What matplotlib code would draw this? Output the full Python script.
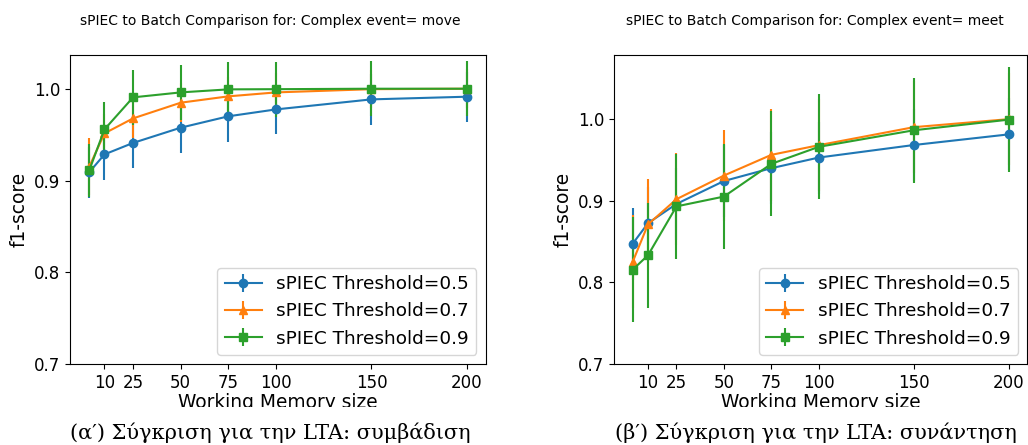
import matplotlib
matplotlib.use('Agg')
import matplotlib.pyplot as plt
from matplotlib.patches import Rectangle

# Dados
memory_sizes = [2, 10, 25, 50, 75, 100, 150, 200]
xticks = [10, 25, 50, 75, 100, 150, 200]
labels = ['sPIEC Threshold=0.5', 'sPIEC Threshold=0.7', 'sPIEC Threshold=0.9']
markers = ['o', '^', 's']

# Complex event = move
move_t05 = [0.909, 0.9285, 0.941, 0.9576, 0.970, 0.9775, 0.9884, 0.9913]
move_t07 = [0.915, 0.9514, 0.9677, 0.9848, 0.9917, 0.996, 0.9995, 1.0]
move_t09 = [0.911, 0.9557, 0.9906, 0.996, 0.9993, 0.9995, 1.0, 1.0]
move_err05 = [0.028, 0.028, 0.027, 0.028, 0.028, 0.027, 0.028, 0.027]
move_err07 = [0.031, 0.021, 0.021, 0.021, 0.021, 0.021, 0.021, 0.021]
move_err09 = [0.029, 0.030, 0.030, 0.030, 0.030, 0.030, 0.030, 0.030]

# Complex event = meet
meet_t05 = [0.8476, 0.8725, 0.896, 0.924, 0.9397, 0.9527, 0.968, 0.981]
meet_t07 = [0.8256, 0.871, 0.9018, 0.9307, 0.956, 0.9678, 0.9898, 0.9996]
meet_t09 = [0.8158, 0.8333, 0.893, 0.905, 0.945, 0.9658, 0.986, 0.999]
meet_err05 = [0.044, 0.044, 0.044, 0.044, 0.044, 0.044, 0.044, 0.044]
meet_err07 = [0.057, 0.056, 0.056, 0.056, 0.056, 0.056, 0.056, 0.056]
meet_err09 = [0.064, 0.064, 0.064, 0.064, 0.064, 0.064, 0.064, 0.064]


def desenhar_painel(ax, series, erros, ytop):
    for y, e, lab, m in zip(series, erros, labels, markers):
        ax.errorbar(memory_sizes, y, yerr=e, marker=m, markersize=6,
                    linewidth=1.5, elinewidth=1.5, label=lab)
    ax.set_xticks(xticks)
    ax.set_yticks([0.7, 0.8, 0.9, 1.0])
    ax.set_ylim(0.7, ytop)
    ax.tick_params(labelsize=12)
    ax.set_xlabel('Working Memory size', fontsize=13.4, labelpad=1)
    ax.set_ylabel('f1-score', fontsize=13.4)
    ax.legend(loc='lower right', fontsize=13.3)


fig = plt.figure(figsize=(10.28, 4.45), dpi=100)
ax1 = fig.add_axes([0.0684, 0.1813, 0.4041, 0.6951])
ax2 = fig.add_axes([0.5973, 0.1813, 0.4022, 0.6951])

desenhar_painel(ax1, [move_t05, move_t07, move_t09],
                [move_err05, move_err07, move_err09], 1.0367)
desenhar_painel(ax2, [meet_t05, meet_t07, meet_t09],
                [meet_err05, meet_err07, meet_err09], 1.078)

fig.text(270.5 / 1028, 1 - 21 / 445,
         'sPIEC to Batch Comparison for: Complex event= move',
         ha='center', va='center', fontsize=10)
fig.text(815 / 1028, 1 - 21 / 445,
         'sPIEC to Batch Comparison for: Complex event= meet',
         ha='center', va='center', fontsize=10)

# faixa branca que corta o rótulo do eixo x, como no original
fig.patches.append(Rectangle((0, 0), 1, 38 / 445, transform=fig.transFigure,
                             facecolor='white', edgecolor='none', zorder=5))

fig.text(270.5 / 1028, 1 - 433 / 445,
         '(α′) Σύγκριση για την LTA: συμβάδιση',
         ha='center', va='center', fontsize=15, family='DejaVu Serif', zorder=6)
fig.text(815.7 / 1028, 1 - 433 / 445,
         '(β′) Σύγκριση για την LTA: συνάντηση',
         ha='center', va='center', fontsize=15, family='DejaVu Serif', zorder=6)

fig.savefig('out.png', dpi=100)
